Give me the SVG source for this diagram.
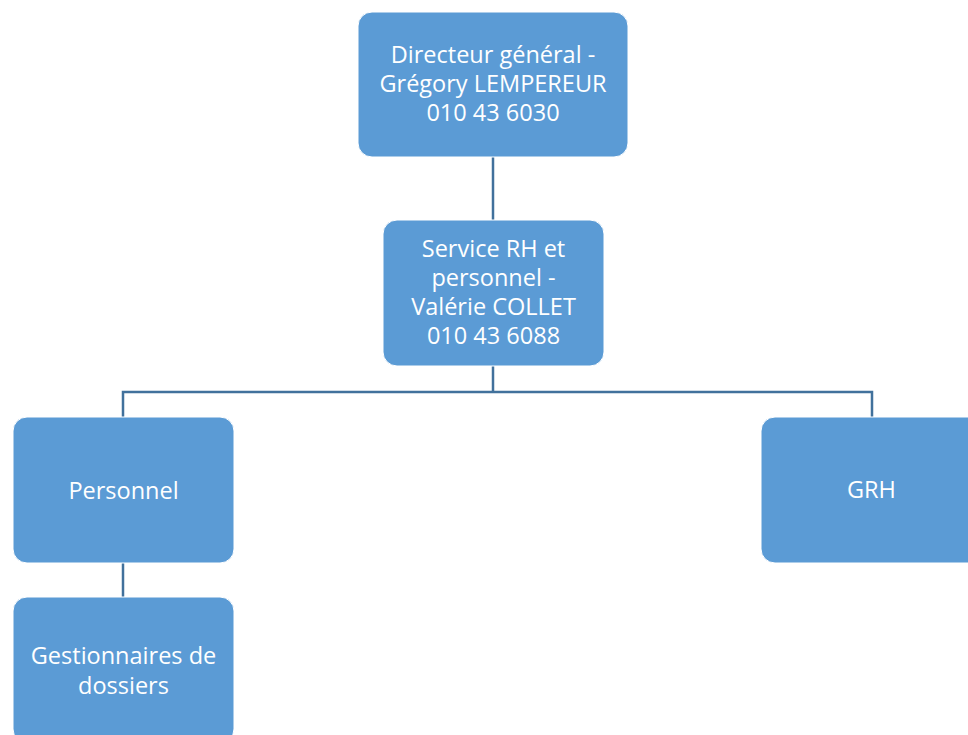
<svg xmlns="http://www.w3.org/2000/svg" width="968" height="735" viewBox="0 0 968 735">
<style>
.box{fill:#5B9BD5;stroke:#FFFFFF;stroke-width:1}
.lbl{font-family:"Open Sans","Noto Sans",sans-serif;font-size:23.5px;fill:#FFFFFF;text-anchor:middle}
.con{fill:none;stroke:#41719C;stroke-width:2.5}
</style>
<rect width="968" height="735" fill="#FFFFFF"/>
<g id="connectors">
<path class="con" d="M493 157V220"/>
<path class="con" d="M493 366V392"/>
<path class="con" d="M123 417V392H872V417"/>
<path class="con" d="M123 563V597"/>
</g>
<g id="n-directeur">
<rect class="box" x="358" y="12" width="270" height="145" rx="14"/>
<text class="lbl" x="493" y="63">Directeur général -</text>
<text class="lbl" x="493" y="92">Grégory LEMPEREUR</text>
<text class="lbl" x="493" y="121">010 43 6030</text>
</g>
<g id="n-service">
<rect class="box" x="383" y="220" width="221" height="146" rx="14"/>
<text class="lbl" x="493.5" y="257">Service RH et</text>
<text class="lbl" x="493.5" y="286">personnel -</text>
<text class="lbl" x="493.5" y="315">Valérie COLLET</text>
<text class="lbl" x="493.5" y="344">010 43 6088</text>
</g>
<g id="n-personnel">
<rect class="box" x="13" y="417" width="221" height="146" rx="14"/>
<text class="lbl" x="123.5" y="499">Personnel</text>
</g>
<g id="n-grh">
<rect class="box" x="761" y="417" width="221" height="146" rx="14"/>
<text class="lbl" x="871.5" y="498">GRH</text>
</g>
<g id="n-gestionnaires">
<rect class="box" x="13" y="597" width="221" height="146" rx="14"/>
<text class="lbl" x="123.5" y="664">Gestionnaires de</text>
<text class="lbl" x="123.5" y="694">dossiers</text>
</g>
</svg>
